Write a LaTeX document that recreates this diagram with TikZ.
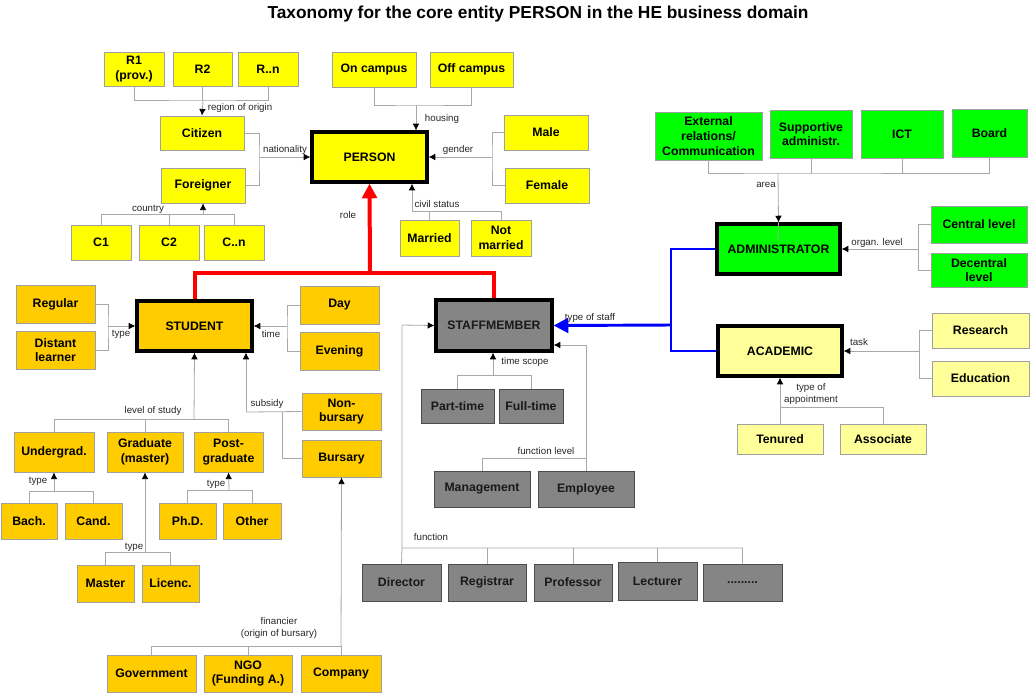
\documentclass[tikz,border=0pt]{standalone}
\usepackage{fontspec}
\setmainfont{Liberation Sans}
\usetikzlibrary{arrows.meta}
\definecolor{yyel}{HTML}{FFFF00}
\definecolor{ggold}{HTML}{FFCC00}
\definecolor{ggreen}{HTML}{00FF00}
\definecolor{lyel}{HTML}{FFFF99}
\definecolor{ggray}{HTML}{858585}
\definecolor{cline}{HTML}{A8A8A8}
\definecolor{bline}{HTML}{A0A0A0}
\newcommand\bxfont{\bfseries\fontsize{9.2}{11}\selectfont}
\newcommand\lbfont{\fontsize{7.3}{8.6}\selectfont}
\newcommand\mybox[7]{\node[#6, minimum width={0.75pt*(#4-#2)}, minimum height={0.75pt*(#5-#3)}] (#1) at ({(#2+#4)/2},{(#3+#5)/2}) {#7};}
\tikzset{
  box/.style={draw=bline, line width=0.6pt, inner sep=1pt, align=center, font=\bxfont},
  yel/.style={box, fill=yyel},
  gld/.style={box, fill=ggold},
  grn/.style={box, fill=ggreen},
  lyl/.style={box, fill=lyel},
  gry/.style={box, fill=ggray, draw=gray!60!black, text=black!90},
  mainbox/.style={draw=black, line width=2.4pt},
  conn/.style={draw=cline, line width=0.6pt},
  arr/.style={-{Latex[length=5pt,width=5pt,color=black]}},
  lbl/.style={font=\lbfont, inner sep=0.5pt, text=black!85},
}
\begin{document}
\begin{tikzpicture}[x=0.75pt,y=-0.75pt]
\useasboundingbox (0,0) rectangle (1030,694);
\node[font=\bfseries\fontsize{13}{15}\selectfont] (title) at (538,14) {Taxonomy for the core entity PERSON in the HE business domain};

% yellow
\mybox{R1}{104}{52}{164}{86}{yel}{R1\\(prov.)}
\mybox{R2}{173}{52}{232}{86}{yel}{R2}
\mybox{Rn}{238}{52}{298}{86}{yel}{R..n}
\mybox{CIT}{160}{116}{244}{150}{yel}{Citizen}
\mybox{FOR}{161}{168}{245}{203}{yel}{Foreigner}
\mybox{C1}{71}{225}{131}{260}{yel}{C1}
\mybox{C2}{139}{225}{199}{260}{yel}{C2}
\mybox{Cn}{204}{225}{264}{260}{yel}{C..n}
\mybox{PER}{312}{132}{427}{182}{yel,mainbox}{PERSON}
\mybox{ON}{332}{52}{416}{87}{yel}{On campus}
\mybox{OFF}{430}{52}{513}{87}{yel}{Off campus}
\mybox{MAL}{504}{115}{588}{150}{yel}{Male}
\mybox{FEM}{505}{168}{589}{203}{yel}{Female}
\mybox{MAR}{400}{220}{459}{256}{yel}{Married}
\mybox{NM}{471}{220}{531}{256}{yel}{Not\\married}

% gold
\mybox{REG}{16}{285}{95}{323}{gld}{Regular}
\mybox{DIS}{16}{331}{95}{369}{gld}{Distant\\learner}
\mybox{STU}{137}{301}{252}{351}{gld,mainbox}{STUDENT}
\mybox{DAY}{300}{286}{379}{324}{gld}{Day}
\mybox{EVE}{300}{332}{379}{370}{gld}{Evening}
\mybox{NB}{302}{393}{381}{430}{gld}{Non-\\bursary}
\mybox{BUR}{302}{440}{381}{477}{gld}{Bursary}
\mybox{UND}{14}{432}{94}{472}{gld}{Undergrad.}
\mybox{GRA}{107}{432}{183}{472}{gld}{Graduate\\(master)}
\mybox{POS}{194}{432}{263}{472}{gld}{Post-\\graduate}
\mybox{BAC}{1}{503}{57}{539}{gld}{Bach.}
\mybox{CAN}{65}{503}{122}{539}{gld}{Cand.}
\mybox{PHD}{159}{503}{216}{539}{gld}{Ph.D.}
\mybox{OTH}{223}{503}{281}{539}{gld}{Other}
\mybox{MAS}{77}{565}{134}{602}{gld}{Master}
\mybox{LIC}{142}{565}{199}{602}{gld}{Licenc.}
\mybox{GOV}{107}{655}{196}{692}{gld}{Government}
\mybox{NGO}{204}{655}{292}{692}{gld}{NGO\\(Funding A.)}
\mybox{COM}{301}{655}{381}{692}{gld}{Company}

% gray
\mybox{STF}{436}{300}{552}{351}{gry,mainbox}{STAFFMEMBER}
\mybox{PT}{421}{389}{494}{423}{gry}{Part-time}
\mybox{FT}{499}{389}{563}{423}{gry}{Full-time}
\mybox{MAN}{434}{471}{530}{507}{gry}{Management}
\mybox{EMP}{538}{471}{634}{507}{gry}{Employee}
\mybox{DIR}{362}{564}{441}{601}{gry}{Director}
\mybox{REGI}{448}{564}{526}{601}{gry}{Registrar}
\mybox{PRO}{534}{564}{612}{601}{gry}{Professor}
\mybox{LEC}{618}{562}{697}{600}{gry}{Lecturer}
\mybox{DOT}{703}{564}{782}{601}{gry}{.........}

% green
\mybox{EXT}{655}{112}{762}{160}{grn}{External\\relations/\\Communication}
\mybox{SUP}{770}{110}{852}{158}{grn}{Supportive\\administr.}
\mybox{ICT}{861}{110}{943}{158}{grn}{ICT}
\mybox{BRD}{952}{109}{1027}{157}{grn}{Board}
\mybox{ADM}{717}{224}{840}{274}{grn,mainbox}{ADMINISTRATOR}
\mybox{CEN}{931}{206}{1027}{243}{grn}{Central level}
\mybox{DEC}{931}{253}{1027}{287}{grn}{Decentral\\level}

% light yellow
\mybox{ACA}{718}{326}{842}{376}{lyl,mainbox}{ACADEMIC}
\mybox{RES}{932}{313}{1029}{348}{lyl}{Research}
\mybox{EDU}{932}{361}{1029}{396}{lyl}{Education}
\mybox{TEN}{737}{424}{823}{454}{lyl}{Tenured}
\mybox{ASO}{840}{424}{926}{454}{lyl}{Associate}

% junctions
\coordinate (jR) at (203,100);
\coordinate (jN) at (259,157);
\coordinate (jC) at (203,214);
\coordinate (jH) at (416,105);
\coordinate (jGe) at (492,157);
\coordinate (jCS) at (412,211);
\coordinate (jRole) at (370,273);
\coordinate (jST) at (108,326);
\coordinate (jTi) at (287,326);
\coordinate (jL) at (194,419);
\coordinate (jS) at (246,412);
\coordinate (jS2) at (282,412);
\coordinate (jU) at (54,491);
\coordinate (jG) at (145,552);
\coordinate (jP) at (229,490);
\coordinate (jF) at (341,646);
\coordinate (jTS) at (493,375);
\coordinate (jFL) at (586,458);
\coordinate (jFL2) at (586,345);
\coordinate (jFu) at (402,548);
\coordinate (jFu2) at (402,325);
\coordinate (jA) at (778,173);
\coordinate (jA2) at (778,240);
\coordinate (jO) at (918,249);
\coordinate (jB) at (671,325);
\coordinate (jTa) at (919,351);
\coordinate (jAp) at (780,407);

% person connectors
\draw[conn] (R1.south) |- (jR) -| (Rn.south);
\draw[conn] (R2.south) -- (R2.south |- jR);
\draw[conn,arr] (jR) -- (CIT.north);
\draw[conn] (CIT.east) -| (jN) |- (FOR.east);
\draw[conn,arr] (jN) -- (PER.west);
\draw[conn] (C1.north) |- (jC) -| (Cn.north);
\draw[conn] (C2.north) -- (C2.north |- jC);
\draw[conn,arr] (jC) -- (FOR.south);
\draw[conn] (ON.south) |- (jH) -| (OFF.south);
\draw[conn,arr] (jH) -- (jH |- PER.north);
\draw[conn] (MAL.west) -| (jGe) |- (FEM.west);
\draw[conn,arr] (jGe) -- (PER.east);
\draw[conn] (MAR.north) -- (MAR.north |- jCS);
\draw[conn] (jCS) -| (NM.north);
\draw[conn,arr] (jCS) -- (jCS |- PER.south);

% role
\draw[red, line width=3pt] (STU.north) |- (jRole) -| (STF.north);
\draw[red, line width=3pt, -{Triangle[length=11pt,width=11pt]}] (jRole) -- (PER.south);

% student connectors
\draw[conn] (REG.east) -| (jST) |- (DIS.east);
\draw[conn,arr] (jST) -- (STU.west);
\draw[conn] (DAY.west) -| (jTi) |- (EVE.west);
\draw[conn,arr] (jTi) -- (STU.east);
\draw[conn] (UND.north) |- (jL) -| (POS.north);
\draw[conn] (GRA.north) -- (GRA.north |- jL);
\draw[conn,arr] (jL) -- (STU.south);
\draw[conn] (NB.west) -- (jS);
\draw[conn,arr] (jS) -- (jS |- STU.south);
\draw[conn] (BUR.west) -| (jS2);
\draw[conn] (BAC.north) |- (jU) -| (CAN.north);
\draw[conn,arr] (jU) -- (UND.south);
\draw[conn] (MAS.north) |- (jG) -| (LIC.north);
\draw[conn,arr] (jG) -- (GRA.south);
\draw[conn] (PHD.north) |- (jP) -| (OTH.north);
\draw[conn,arr] (jP) -- (POS.south);
\draw[conn] (GOV.north) |- (jF) -- (COM.north);
\draw[conn] (NGO.north) -- (NGO.north |- jF);
\draw[conn,arr] (jF) -- (BUR.south);

% staff connectors
\draw[conn] (PT.north) |- (jTS) -| (FT.north);
\draw[conn,arr] (jTS) -- (jTS |- STF.south);
\draw[conn] (MAN.north) |- (jFL);
\draw[conn,arr] (EMP.north) -- (jFL2) -- (jFL2 -| STF.east);
\draw[conn] (DIR.north) -- (jFu) -| (DOT.north);
\draw[conn] (REGI.north) -- (REGI.north |- jFu);
\draw[conn] (PRO.north) -- (PRO.north |- jFu);
\draw[conn] (LEC.north) -- (LEC.north |- jFu);
\draw[conn,arr] (jFu) -- (jFu2) -- (STF.west);

% administrator
\draw[conn] (EXT.south) |- (jA) -| (BRD.south);
\draw[conn] (SUP.south) -- (SUP.south |- jA);
\draw[conn] (ICT.south) -- (ICT.south |- jA);
\draw[conn] (ADM.north) -- (jA2);
\draw[conn,arr] (jA) -- (ADM.north);
\draw[conn] (CEN.west) -| (jO) |- (DEC.west);
\draw[conn,arr] (jO) -- (ADM.east);

% blue
\draw[blue, line width=2.2pt] (ADM.west) -| (jB) |- (ACA.west);
\draw[blue, line width=2.2pt, -{Triangle[length=11pt,width=11pt]}] (jB) -- (STF.east);

% academic
\draw[conn] (RES.west) -| (jTa) |- (EDU.west);
\draw[conn,arr] (jTa) -- (ACA.east);
\draw[conn,arr] (TEN.north) -- (ACA.south);
\draw[conn] (jAp) -| (ASO.north);

% labels
\node[lbl] (l1) at (240,108) {region of origin};
\node[lbl] (l2) at (285,150) {nationality};
\node[lbl] (l3) at (148,209) {country};
\node[lbl] (l4) at (348,215) {role};
\node[lbl] (l5) at (442,119) {housing};
\node[lbl] (l6) at (458,150) {gender};
\node[lbl] (l7) at (437,204) {civil status};
\node[lbl] (l8) at (121,334) {type};
\node[lbl] (l9) at (271,334) {time};
\node[lbl] (l10) at (267,404) {subsidy};
\node[lbl] (l11) at (153,411) {level of study};
\node[lbl] (l12) at (38,481) {type};
\node[lbl] (l13) at (216,484) {type};
\node[lbl] (l14) at (134,547) {type};
\node[lbl, align=center] (l15) at (279,628) {financier\\(origin of bursary)};
\node[lbl] (l16) at (525,362) {time scope};
\node[lbl] (l17) at (546,451) {function level};
\node[lbl] (l18) at (590,318) {type of staff};
\node[lbl] (l19) at (431,537) {function};
\node[lbl] (l20) at (766,185) {area};
\node[lbl] (l21) at (877,243) {organ. level};
\node[lbl] (l22) at (859,342) {task};
\node[lbl, align=center] (l23) at (811,394) {type of\\appointment};
\end{tikzpicture}
\end{document}
